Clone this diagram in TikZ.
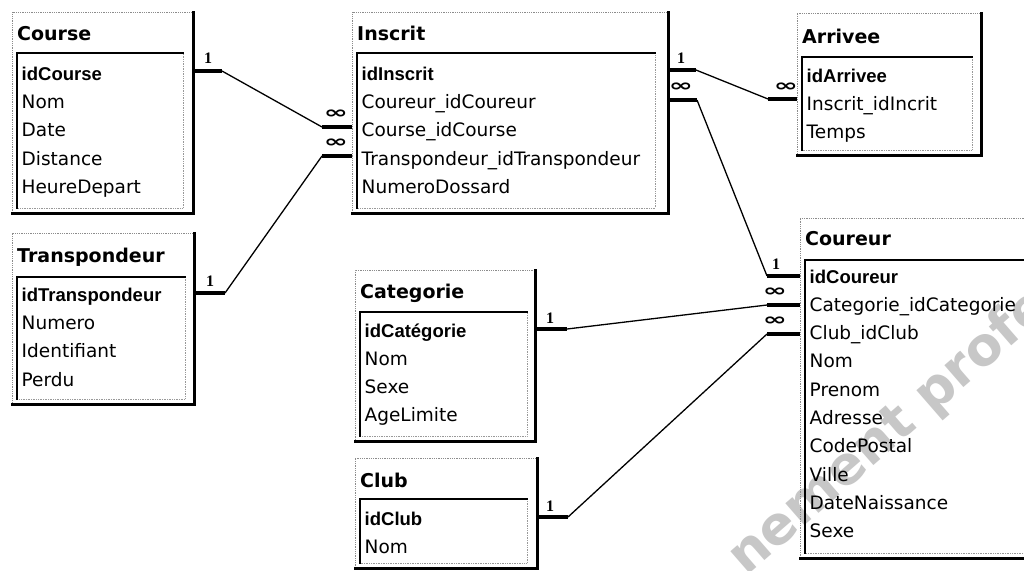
\documentclass[tikz,border=0pt]{standalone}
\usepackage{fontspec}
\setmainfont{DejaVu Sans}
\newfontfamily\keyfont{Liberation Sans}
\newfontfamily\onefont{Liberation Serif}
\usetikzlibrary{fit}
\tikzset{
  frm/.style={draw=black!45, densely dotted, line width=0.8pt, inner sep=0pt, outer sep=0pt},
  shad/.style={line width=3pt, line cap=rect},
  inl/.style={line width=2.8pt, line cap=rect},
  indot/.style={draw=black!40, densely dotted, line width=0.7pt},
  hdr/.style={anchor=base west, inner sep=0pt, font=\fontsize{19}{22}\selectfont\bfseries},
  fld/.style={anchor=base west, inner sep=0pt, font=\fontsize{18.5}{22}\selectfont},
  keyf/.style={anchor=base west, inner sep=0pt, font=\keyfont\fontsize{18.5}{22}\selectfont\bfseries},
  stub/.style={line width=4pt},
  rel/.style={line width=1.3pt},
  one/.style={inner sep=0pt, font=\onefont\fontsize{16}{16}\selectfont\bfseries},
  many/.style={inner sep=0pt, font=\fontsize{17}{17}\selectfont\bfseries},
  wmark/.style={rotate=41, anchor=base west, inner sep=0pt, text=black!22,
    font=\fontsize{53}{53}\selectfont\bfseries}
}
% name, x1, y1, x2, y2, inner top, inner right
\newcommand\dbtable[7]{%
  \node[frm, fit={(#2,#3) (#4,#5)}] (#1) {};
  \draw[indot] (#2+5,#6) rectangle (#7,#5-5);
  \draw[inl] (#2+5,#5-5) -- (#2+5,#6) -- (#7,#6);
  \draw[shad] (#4,#3) -- (#4,#5) -- (#2,#5);
}
\newcommand\manysym{\scalebox{1.7}[1]{∞}}
\begin{document}
\begin{tikzpicture}[x=1pt,y=-1pt]
\useasboundingbox (0,0) rectangle (1024,570);
\clip (0,0) rectangle (1024,570);
\fill[white] (0,0) rectangle (1024,570);

% watermark
\node[wmark] (wm) at (746,577) {nement profe};

% ---------- Course ----------
\dbtable{course}{12}{12}{193}{213}{53}{183}
\node[hdr] (course-h) at (17,40) {Course};
\node[keyf] (course-0) at (21.5,80) {idCourse};
\foreach \t [count=\i] in {Nom,Date,Distance,HeureDepart}
  \node[fld] (course-\i) at (21.5,80+\i*28.4) {\t};

% ---------- Transpondeur ----------
\dbtable{transp}{12}{233}{194}{404}{277}{185}
\node[hdr] (transp-h) at (17,262) {Transpondeur};
\node[keyf] (transp-0) at (21.5,301) {idTranspondeur};
\foreach \t [count=\i] in {Numero,Identifiant,Perdu}
  \node[fld] (transp-\i) at (21.5,301+\i*28.4) {\t};

% ---------- Inscrit ----------
\dbtable{inscrit}{352}{12}{668}{213}{53}{655}
\node[hdr] (inscrit-h) at (357,40) {Inscrit};
\node[keyf] (inscrit-0) at (361.5,80) {idInscrit};
\foreach \t [count=\i] in {Coureur\_idCoureur,Course\_idCourse,Transpondeur\_idTranspondeur,NumeroDossard}
  \node[fld] (inscrit-\i) at (361.5,80+\i*28.4) {\t};

% ---------- Arrivee ----------
\dbtable{arrivee}{797}{13}{981}{155}{57}{972}
\node[hdr] (arrivee-h) at (802,43) {Arrivee};
\node[keyf] (arrivee-0) at (806.5,82) {idArrivee};
\foreach \t [count=\i] in {Inscrit\_idIncrit,Temps}
  \node[fld] (arrivee-\i) at (806.5,82+\i*28.3) {\t};

% ---------- Categorie ----------
\dbtable{categorie}{355}{270}{535}{441}{312}{527}
\node[hdr] (categorie-h) at (360,298) {Categorie};
\node[keyf] (categorie-0) at (364.5,337) {idCatégorie};
\foreach \t [count=\i] in {Nom,Sexe,AgeLimite}
  \node[fld] (categorie-\i) at (364.5,337+\i*28.3) {\t};

% ---------- Club ----------
\dbtable{club}{355}{458}{537}{568}{499}{527}
\node[hdr] (club-h) at (360,487) {Club};
\node[keyf] (club-0) at (364.5,525) {idClub};
\node[fld] (club-1) at (364.5,553.3) {Nom};

% ---------- Coureur ----------
\dbtable{coureur}{800}{218}{1040}{558}{260}{1030}
\node[hdr] (coureur-h) at (805,245) {Coureur};
\node[keyf] (coureur-0) at (809.5,283) {idCoureur};
\foreach \t [count=\i] in {Categorie\_idCategorie,Club\_idClub,Nom,Prenom,Adresse,CodePostal,Ville,DateNaissance,Sexe}
  \node[fld] (coureur-\i) at (809.5,283+\i*28.3) {\t};

% ---------- relations ----------
% Course -> Inscrit
\coordinate (r1a) at (course.east |- 0,71);
\coordinate (r1b) at (222,71);
\coordinate (r1c) at (322,127);
\coordinate (r1d) at (inscrit.west |- 0,127);
\draw[stub] (r1a) -- (r1b);
\draw[rel] (r1b) -- (r1c);
\draw[stub] (r1c) -- (r1d);
\node[one] (l1a) at (208,58) {1};
\node[many] (l1b) at (336,114) {\manysym};

% Transpondeur -> Inscrit
\coordinate (r2a) at (transp.east |- 0,293);
\coordinate (r2b) at (225,293);
\coordinate (r2c) at (322,156);
\coordinate (r2d) at (inscrit.west |- 0,156);
\draw[stub] (r2a) -- (r2b);
\draw[rel] (r2b) -- (r2c);
\draw[stub] (r2c) -- (r2d);
\node[one] (l2a) at (210,281) {1};
\node[many] (l2b) at (336,143) {\manysym};

% Inscrit -> Arrivee
\coordinate (r3a) at (inscrit.east |- 0,70);
\coordinate (r3b) at (696,70);
\coordinate (r3c) at (768,99);
\coordinate (r3d) at (arrivee.west |- 0,99);
\draw[stub] (r3a) -- (r3b);
\draw[rel] (r3b) -- (r3c);
\draw[stub] (r3c) -- (r3d);
\node[one] (l3a) at (681,58) {1};
\node[many] (l3b) at (786,87) {\manysym};

% Coureur -> Inscrit
\coordinate (r4a) at (inscrit.east |- 0,100);
\coordinate (r4b) at (697,100);
\coordinate (r4c) at (767,276);
\coordinate (r4d) at (coureur.west |- 0,276);
\draw[stub] (r4a) -- (r4b);
\draw[rel] (r4b) -- (r4c);
\draw[stub] (r4c) -- (r4d);
\node[many] (l4a) at (681,87) {\manysym};
\node[one] (l4b) at (776,264) {1};

% Categorie -> Coureur
\coordinate (r5a) at (categorie.east |- 0,329);
\coordinate (r5b) at (567,329);
\coordinate (r5c) at (767,305);
\coordinate (r5d) at (coureur.west |- 0,305);
\draw[stub] (r5a) -- (r5b);
\draw[rel] (r5b) -- (r5c);
\draw[stub] (r5c) -- (r5d);
\node[one] (l5a) at (550,318) {1};
\node[many] (l5b) at (775,292) {\manysym};

% Club -> Coureur
\coordinate (r6a) at (club.east |- 0,517);
\coordinate (r6b) at (568,517);
\coordinate (r6c) at (767,334);
\coordinate (r6d) at (coureur.west |- 0,334);
\draw[stub] (r6a) -- (r6b);
\draw[rel] (r6b) -- (r6c);
\draw[stub] (r6c) -- (r6d);
\node[one] (l6a) at (550,506) {1};
\node[many] (l6b) at (775,321) {\manysym};
\end{tikzpicture}
\end{document}
